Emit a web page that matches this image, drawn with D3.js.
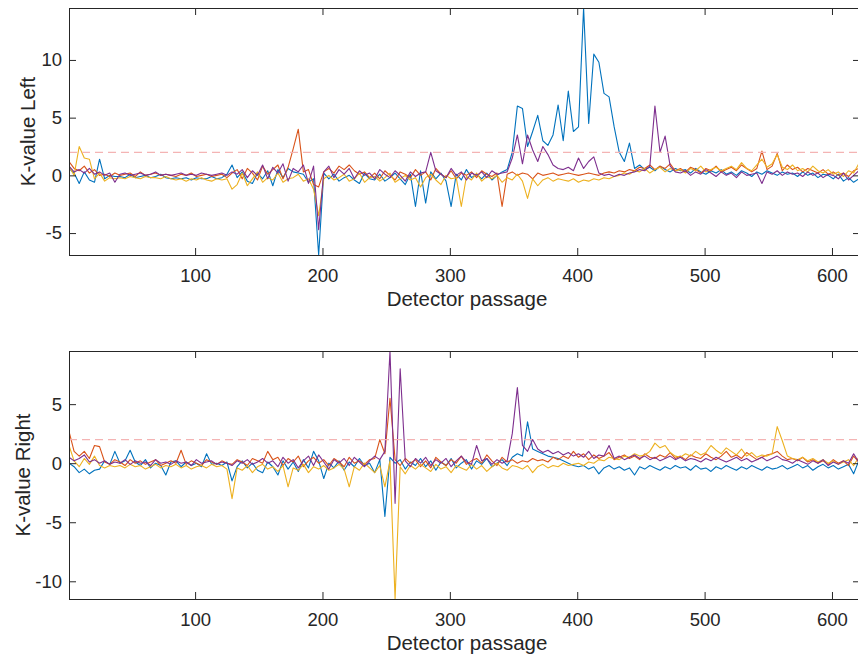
<!DOCTYPE html>
<html><head><meta charset="utf-8">
<script src="https://cdn.jsdelivr.net/npm/d3@7"></script>
<style>body{margin:0;background:#fff}svg{display:block}</style>
</head><body><svg id="c" width="858" height="659"></svg>
<script>
// Detector passages (sampled every 4th passage)
const passage = d3.range(1, 622, 4);
const xTicks = [100, 200, 300, 400, 500, 600];
const leftTicks = [-5, 0, 5, 10];
const rightTicks = [-10, -5, 0, 5];
const threshold = 2;

const leftBlue = [
 0.6,0.2,-0.7,0.3,-0.4,-0.6,1.4,-0.3,0.0,-0.1,
 -0.1,-0.2,0.1,-0.2,-0.1,0.0,-0.2,-0.1,0.1,-0.2,
 -0.3,-0.2,-0.3,-0.2,-0.4,-0.2,-0.3,-0.3,-0.1,-0.3,
 -0.2,0.1,0.9,-0.2,0.3,-0.5,-0.7,0.2,-0.3,0.4,
 -0.9,0.5,-0.2,0.6,0.3,0.2,0.1,-0.6,-0.3,-6.9,
 0.2,-0.3,0.1,-0.5,-0.2,0.0,-0.4,-0.7,0.2,-0.3,
 -0.4,0.1,-0.5,-0.2,0.2,-0.3,-0.8,0.1,-2.7,0.4,
 -2.4,0.3,-0.3,0.2,-0.5,-2.7,0.1,-0.4,0.5,-0.2,
 0.1,-0.3,0.2,-0.4,0.0,0.3,0.5,2.0,6.0,5.8,
 2.5,3.8,5.2,3.0,2.6,3.5,6.1,3.0,7.3,3.8,
 4.2,14.5,4.5,10.5,9.8,7.1,6.8,4.2,2.0,1.2,
 2.8,0.6,0.9,0.5,0.7,0.4,0.8,0.5,0.3,0.6,
 0.4,0.5,0.2,0.6,0.3,0.1,0.4,0.2,0.5,0.1,
 0.3,0.0,0.4,0.2,-0.1,0.3,0.1,0.4,0.2,0.0,
 0.3,0.1,0.2,-0.1,0.3,0.0,0.2,-0.2,0.1,0.0,
 -0.3,0.1,-0.5,-0.2,-0.6,-0.3];
const leftOrange = [
 1.2,0.6,0.4,0.8,0.2,0.5,0.0,0.1,-0.1,0.2,
 0.0,0.1,0.2,-0.1,0.3,0.0,0.1,0.2,0.0,0.1,
 0.0,-0.1,0.1,0.0,0.2,-0.1,0.0,0.1,-0.1,0.0,
 0.1,-0.2,0.2,0.5,-0.3,0.6,0.2,-0.4,0.8,0.1,
 0.5,0.9,-0.3,0.7,2.3,4.0,0.3,0.5,-0.8,-1.0,
 0.3,0.6,0.2,0.8,0.5,0.9,0.4,0.1,0.3,-0.2,
 0.2,-0.3,0.4,0.0,-0.4,0.3,0.1,-0.2,0.5,0.0,
 0.3,-0.4,0.6,0.1,-0.2,0.4,-0.3,0.2,0.0,0.3,
 -0.2,0.4,0.1,-0.1,0.2,-2.7,0.1,0.3,0.0,0.2,
 0.1,-0.3,0.2,0.0,0.1,0.2,0.0,0.1,0.2,0.1,
 0.0,0.1,0.2,0.1,0.0,0.2,0.3,0.2,0.4,0.3,
 0.5,0.4,0.7,0.6,0.9,0.5,0.8,0.6,1.0,0.4,
 0.6,0.3,0.7,0.5,0.2,0.6,0.4,0.8,0.3,0.5,
 0.7,0.4,0.9,0.6,0.3,0.6,2.1,0.5,0.8,1.9,
 0.4,0.9,0.5,0.7,0.3,0.6,0.4,0.2,0.5,0.1,
 0.3,0.0,0.2,-0.1,0.4,0.6];
const leftYellow = [
 0.8,0.0,2.5,1.5,1.4,-0.3,0.2,-0.5,-0.2,-0.3,
 -0.2,-0.3,-0.1,-0.2,-0.3,-0.1,-0.2,-0.2,-0.3,-0.1,
 -0.3,-0.4,-0.3,-0.5,-0.3,-0.4,-0.2,-0.4,-0.5,-0.3,
 -0.4,-0.3,-1.2,-0.8,0.2,-0.9,-0.3,0.3,-0.6,-0.2,
 -0.4,0.2,-0.6,-0.3,-0.2,0.1,-0.5,-0.3,-1.2,-3.5,
 -0.3,0.0,-0.4,-0.2,0.1,-0.5,-0.3,0.2,-0.6,-0.2,
 -0.1,-0.5,-0.2,0.2,-0.6,-0.3,0.0,-0.4,-0.2,-1.0,
 -0.2,0.1,-0.4,-0.8,0.0,-0.3,-0.2,-2.7,-0.1,-0.4,
 0.2,-0.5,-0.1,-0.3,0.0,-0.6,-0.2,-0.4,0.1,-0.5,
 -2.0,-0.3,-0.9,-0.4,-0.2,-0.5,-0.3,-0.4,-0.5,-0.3,
 -0.6,-0.4,-0.5,-0.3,-0.4,-0.2,-0.3,-0.1,0.0,0.2,
 0.1,0.4,0.3,0.6,0.2,0.5,0.7,0.3,0.6,0.4,
 0.5,0.2,0.6,0.4,0.8,0.3,0.5,0.7,0.4,0.6,
 0.8,0.5,1.1,0.6,0.4,0.9,1.4,0.7,1.0,1.8,
 0.7,0.5,0.9,0.4,0.6,0.3,0.8,0.4,0.2,0.5,
 0.1,0.3,-0.1,0.4,0.2,1.0];
const leftPurple = [
 0.8,0.3,0.5,0.2,0.6,0.1,0.3,0.0,0.2,-0.6,
 0.1,0.2,0.0,0.1,0.2,0.0,0.1,0.3,0.0,0.1,
 0.0,0.1,0.2,0.0,0.1,0.0,0.2,0.1,0.0,0.1,
 0.2,0.0,0.3,0.1,0.5,-0.2,0.4,0.0,0.9,-0.3,
 0.7,0.2,1.0,-0.5,0.6,0.3,0.9,-0.7,0.8,-4.7,
 0.3,0.8,-0.2,0.5,0.1,0.6,-0.3,0.4,0.0,0.2,
 -0.3,0.5,0.1,-0.2,0.4,0.0,-0.5,0.3,-0.1,0.2,
 0.3,2.0,0.4,0.1,-0.2,0.6,0.0,0.3,-0.4,0.2,
 0.0,0.3,-0.2,0.4,0.1,0.2,0.3,1.5,3.5,1.0,
 3.5,2.2,1.2,2.5,1.8,0.9,0.6,0.5,0.7,0.4,
 1.5,0.6,1.2,1.6,0.2,0.0,0.1,-0.1,0.1,0.0,
 0.2,0.3,0.5,0.4,0.8,6.0,2.0,3.4,0.8,0.3,
 0.2,0.4,0.0,0.3,0.1,0.5,0.2,-0.1,0.3,0.0,
 0.2,-0.2,0.3,0.0,0.1,0.2,-0.7,0.3,0.1,0.4,
 0.0,0.3,0.1,0.2,-0.1,0.3,0.0,0.2,-0.2,0.1,
 0.0,-0.3,0.2,-0.4,0.0,0.4];

const rightBlue = [
 0.0,-0.3,-0.8,-0.5,-0.9,-0.6,-0.5,0.2,-0.1,1.0,
 0.0,0.2,1.1,0.1,-0.2,0.3,-0.4,0.0,-0.2,-1.0,
 0.1,0.2,-0.3,0.1,-0.2,0.0,-0.3,0.8,-0.1,0.0,
 -0.2,0.1,-1.5,-0.3,0.2,-0.4,0.0,-0.6,-0.8,0.1,
 -0.3,-1.0,0.2,-0.5,0.1,-0.7,0.3,-0.4,1.0,0.2,
 -1.3,0.0,-0.4,0.2,-0.6,0.1,-0.3,0.4,-0.2,0.0,
 -0.8,0.3,-4.5,0.5,0.0,0.3,-0.5,0.1,-0.2,0.4,
 -0.3,0.2,-0.6,0.1,-0.2,0.4,-0.4,0.0,0.3,-0.5,
 0.2,-0.1,0.4,-0.3,0.0,0.3,-0.2,0.5,0.8,0.6,
 3.5,1.2,1.0,0.8,0.6,0.5,0.4,0.2,0.0,-0.2,
 -0.3,-0.2,-0.5,-0.3,-0.9,-0.4,-0.2,-0.5,-0.3,-0.6,
 -0.4,-1.0,-0.3,-0.5,-0.2,-0.4,-0.6,-0.3,-0.5,-0.2,
 -0.4,-0.3,-0.6,-0.2,-0.5,-0.4,-0.7,-0.3,-0.5,-0.2,
 -0.4,-0.6,-0.3,-0.5,-0.2,-0.4,-0.6,-0.3,-0.5,-0.4,
 -0.2,-0.5,-0.3,-0.1,-0.4,-0.2,-0.6,-0.3,-0.1,-0.4,
 -0.2,-0.5,-0.3,-0.1,-0.9,0.2];
const rightOrange = [
 2.7,1.0,0.6,1.0,0.4,1.5,1.4,0.1,-0.1,0.3,
 0.1,-0.2,0.3,0.0,0.2,-0.1,0.1,0.3,-0.2,0.0,
 0.2,0.0,1.1,-0.1,0.2,0.0,-0.2,0.3,0.1,-0.1,
 0.2,0.0,-0.1,0.3,0.1,-0.2,0.4,0.2,0.0,1.0,
 0.3,0.5,-0.2,0.4,0.1,0.6,-0.3,0.2,0.5,0.0,
 0.3,-0.2,0.4,0.1,-0.3,0.5,0.0,0.2,-0.1,0.3,
 0.4,2.0,0.8,5.5,0.3,-0.2,0.4,0.0,0.3,-0.3,
 0.2,-0.4,0.5,0.1,-0.2,0.3,0.0,0.6,-0.1,0.2,
 0.4,0.0,0.7,0.2,-0.2,0.5,0.1,0.3,0.0,0.2,
 0.1,0.4,0.2,0.3,0.1,0.5,0.3,0.6,0.4,1.0,
 0.5,0.8,0.3,0.7,0.4,0.6,0.9,0.3,0.5,0.7,
 0.4,0.6,0.3,0.8,0.5,0.4,0.7,0.5,0.9,0.4,
 0.6,0.3,0.7,0.5,0.4,0.8,0.5,0.3,0.6,1.0,
 0.5,0.7,0.4,0.9,0.6,0.3,0.5,0.7,0.8,1.0,
 0.6,0.3,0.4,0.2,0.5,0.1,0.3,0.0,0.2,-0.1,
 0.3,0.0,0.2,-0.2,0.6,0.1];
const rightYellow = [
 1.5,0.2,-0.3,0.4,-0.1,0.6,-0.2,-0.4,-0.2,-0.3,
 -0.2,-0.4,-0.1,-0.3,-0.2,-0.5,-0.3,-0.1,-0.4,-0.2,
 -0.3,-0.1,-0.4,-0.2,-0.5,-0.3,-0.2,-0.4,-0.1,-0.3,
 -0.2,-0.5,-3.0,-0.4,-0.6,-0.2,-0.8,-0.3,-0.1,-0.5,
 -0.3,-0.7,-0.2,-2.0,-0.4,-0.6,-0.1,-0.8,-0.3,-0.5,
 -0.2,-0.6,-0.4,-0.1,-0.5,-2.0,-0.3,-0.6,0.0,-0.4,
 -0.8,-0.2,-2.0,0.2,-11.5,-0.3,-0.9,-0.2,-0.5,-0.1,
 -0.4,-0.7,-0.1,-0.5,-0.3,-0.8,-0.2,-0.4,-0.6,-0.1,
 -0.5,-0.2,-0.7,-0.3,0.0,-0.4,-0.6,-0.2,-0.3,-0.5,
 -0.2,-0.8,-0.3,-0.1,-0.4,-0.2,-0.3,0.0,-0.2,-0.1,
 0.0,-0.2,0.1,0.0,0.3,0.2,0.5,0.4,0.3,0.6,
 0.5,0.8,0.6,0.7,1.0,1.7,1.3,1.5,0.9,0.6,
 0.5,0.8,0.6,1.0,0.7,0.9,1.5,1.1,0.8,1.3,
 1.0,0.7,1.2,0.6,0.9,0.5,0.7,0.6,0.8,3.1,
 1.9,0.6,0.4,0.3,0.5,0.2,0.4,0.1,0.3,0.0,
 0.2,-0.1,0.1,0.3,-0.2,0.5];
const rightPurple = [
 0.5,0.2,0.4,0.7,0.1,0.3,0.0,0.2,-0.1,0.1,
 0.0,0.3,-0.1,0.2,0.0,0.1,-0.2,0.3,0.0,0.1,
 -0.1,0.2,0.0,0.1,-0.2,0.3,0.0,0.1,0.2,-0.1,
 0.1,0.0,-0.2,0.2,0.0,0.3,-0.1,0.1,0.4,0.0,
 0.2,-0.3,0.5,0.0,0.3,-0.4,0.2,0.6,-0.2,0.7,
 0.1,-0.5,0.3,0.0,0.4,-0.2,0.5,0.1,-0.3,0.2,
 0.6,0.3,1.0,9.5,-3.4,8.0,0.2,-0.3,0.4,0.0,
 0.5,-0.2,0.3,0.0,0.4,-0.3,0.2,0.6,0.1,-0.1,
 1.5,0.2,0.4,-0.1,0.3,0.0,0.2,2.5,6.4,1.5,
 1.0,2.0,1.2,0.9,1.1,0.8,1.0,0.7,0.9,0.6,
 0.8,0.5,1.0,0.4,0.7,0.6,1.5,0.4,0.6,0.3,
 0.5,0.7,0.4,0.6,0.3,0.5,0.2,0.4,0.6,0.3,
 0.5,0.2,0.4,0.3,0.1,0.4,0.2,0.5,0.3,0.1,
 0.3,0.5,0.2,0.4,0.1,0.3,0.5,0.2,0.4,0.6,
 0.3,0.2,0.0,0.3,0.1,-0.1,0.2,0.0,0.3,-0.2,
 0.1,-0.1,0.2,0.0,0.8,0.1];

const colors = ["#0072BD", "#D95319", "#EDB120", "#7E2F8E"];
const font = "'Liberation Sans', Arial, Helvetica, sans-serif";
const ink = "#262626";

const panels = [
  {id: "L", label: "K-value Left", series: [leftBlue, leftOrange, leftYellow, leftPurple],
   yDomain: [-6.9, 14.5], yTicks: leftTicks, top: 8, bottom: 255, ylabX: 35},
  {id: "R", label: "K-value Right", series: [rightBlue, rightOrange, rightYellow, rightPurple],
   yDomain: [-11.5, 9.5], yTicks: rightTicks, top: 351, bottom: 599, ylabX: 30}
];

const svg = d3.select("#c");
const x = d3.scaleLinear().domain([1, 622]).range([69, 860]);
const tickLen = 7;

panels.forEach(p => {
  const y = d3.scaleLinear().domain(p.yDomain).range([p.bottom, p.top]);
  const g = svg.append("g");
  const clipId = "clip" + p.id;
  svg.append("clipPath").attr("id", clipId).append("rect")
    .attr("x", x.range()[0]).attr("y", p.top)
    .attr("width", x.range()[1] - x.range()[0]).attr("height", p.bottom - p.top);

  const line = d3.line().x((d, i) => x(passage[i])).y(d => y(d));
  const lg = g.append("g").attr("clip-path", `url(#${clipId})`);
  p.series.forEach((s, k) => {
    lg.append("path").datum(s).attr("d", line)
      .attr("fill", "none").attr("stroke", colors[k]).attr("stroke-width", 1.1)
      .attr("stroke-linejoin", "round");
  });
  lg.append("line")
    .attr("x1", x(1)).attr("x2", x(622)).attr("y1", y(threshold)).attr("y2", y(threshold))
    .attr("stroke", "#f4b4b4").attr("stroke-width", 1.3).attr("stroke-dasharray", "8,5");

  // axes
  const ax = g.append("g").attr("transform", `translate(0,${p.bottom})`)
    .call(d3.axisBottom(x).tickValues(xTicks).tickSizeInner(-tickLen).tickSizeOuter(0).tickPadding(14));
  const axT = g.append("g").attr("transform", `translate(0,${p.top})`)
    .call(d3.axisTop(x).tickValues(xTicks).tickSizeInner(-tickLen).tickSizeOuter(0).tickFormat(""));
  const ay = g.append("g").attr("transform", `translate(${x.range()[0]},0)`)
    .call(d3.axisLeft(y).tickValues(p.yTicks).tickSizeInner(-tickLen).tickSizeOuter(0).tickPadding(7)
      .tickFormat(d => String(d)));
  const ayR = g.append("g").attr("transform", `translate(${x.range()[1]},0)`)
    .call(d3.axisRight(y).tickValues(p.yTicks).tickSizeInner(-tickLen).tickSizeOuter(0).tickFormat(""));
  [ax, axT, ay, ayR].forEach(a => {
    a.select(".domain").remove();
    a.selectAll(".tick line").attr("stroke", ink).attr("stroke-width", 1);
    a.selectAll("text").attr("fill", ink).style("font-family", font).style("font-size", "18.5px");
  });
  g.append("rect").attr("x", x.range()[0] + 0.5).attr("y", p.top + 0.5)
    .attr("width", x.range()[1] - x.range()[0]).attr("height", p.bottom - p.top)
    .attr("fill", "none").attr("stroke", ink).attr("stroke-width", 1);

  g.append("text").attr("x", 467).attr("y", p.bottom + 51)
    .attr("text-anchor", "middle").attr("fill", ink)
    .style("font-family", font).style("font-size", "20.5px").text("Detector passage");
  g.append("text")
    .attr("transform", `translate(${p.ylabX},${(p.top + p.bottom) / 2}) rotate(-90)`)
    .attr("text-anchor", "middle").attr("fill", ink)
    .style("font-family", font).style("font-size", "20.5px").text(p.label);
});
</script></body></html>
